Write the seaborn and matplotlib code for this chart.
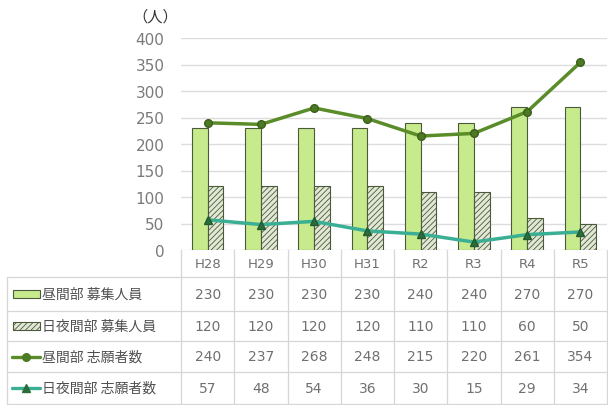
import matplotlib
matplotlib.use("Agg")
import matplotlib.pyplot as plt
import seaborn as sns
import pandas as pd
import numpy as np
from matplotlib.patches import Rectangle
from matplotlib.lines import Line2D

categories = ["H28", "H29", "H30", "H31", "R2", "R3", "R4", "R5"]
day_quota = [230, 230, 230, 230, 240, 240, 270, 270]
daynight_quota = [120, 120, 120, 120, 110, 110, 60, 50]
day_applicants = [240, 237, 268, 248, 215, 220, 261, 354]
daynight_applicants = [57, 48, 54, 36, 30, 15, 29, 34]
series_labels = ["昼間部 募集人員", "日夜間部 募集人員", "昼間部 志願者数", "日夜間部 志願者数"]
y_ticks = [0, 50, 100, 150, 200, 250, 300, 350, 400]

sns.set_theme(style="white")
plt.rcParams['font.family'] = ['Noto Sans CJK JP', 'DejaVu Sans']
plt.rcParams['hatch.color'] = "#8a9a7a"
plt.rcParams['hatch.linewidth'] = 0.6

W, H = 608, 406
fig = plt.figure(figsize=(W / 100, H / 100), dpi=100)
left, right, top, bottom = 181, 607, 39, 251
ax = fig.add_axes([left / W, 1 - bottom / H, (right - left) / W, (bottom - top) / H])

bar_green = "#c6ea8c"
bar_edge = "#4a5a3a"
hatch_face = "#e2e8d6"
line_green = "#5a8c2a"
marker_green = "#4c7a22"
line_teal = "#3aaf94"
marker_teal = "#2a6e3a"
gray_txt = "#707070"

df = pd.DataFrame({
    "cat": categories * 2,
    "val": day_quota + daynight_quota,
    "series": [series_labels[0]] * 8 + [series_labels[1]] * 8,
})
sns.barplot(data=df, x="cat", y="val", hue="series", order=categories,
            hue_order=series_labels[:2], palette=[bar_green, hatch_face],
            width=0.59, ax=ax, legend=False, edgecolor=bar_edge, linewidth=0.8,
            saturation=1)
for p in ax.patches[len(categories):]:
    p.set_hatch("//////")
    p.set_edgecolor(bar_edge)

df_a = pd.DataFrame({"cat": categories, "val": day_applicants})
df_b = pd.DataFrame({"cat": categories, "val": daynight_applicants})
sns.pointplot(data=df_a, x="cat", y="val", order=categories, color=line_green,
              markers="o", linewidth=2.5, ax=ax, errorbar=None)
sns.pointplot(data=df_b, x="cat", y="val", order=categories, color=line_teal,
              markers="^", linewidth=2.5, ax=ax, errorbar=None)
for ln, mc, ms in zip(ax.lines[-2:], [marker_green, marker_teal], [5.5, 5.5]):
    ln.set_markerfacecolor(mc)
    ln.set_markeredgecolor("#3d5e1c" if mc == marker_green else "#245a30")
    ln.set_markersize(ms)
    ln.set_markeredgewidth(1)

ax.set_ylim(0, 400)
ax.set_xlim(-0.5, len(categories) - 0.5)
ax.set_yticks(y_ticks)
ax.set_yticklabels([str(t) for t in y_ticks], color="#7a7a7a", fontsize=11,
                   family="DejaVu Sans")
ax.tick_params(axis="y", length=0, pad=12)
ax.set_xticks([])
ax.set_xlabel("")
ax.set_ylabel("")
for s in ax.spines.values():
    s.set_visible(False)
ax.grid(axis="y", color="#dcdcdc", linewidth=1)
ax.set_axisbelow(True)

fig.text(155 / W, 1 - 17 / H, "（人）", ha="center", va="center", fontsize=11,
         color="#333333")

# table
def fx(px):
    return px / W

def fy(py):
    return 1 - py / H

col_w = (right - left) / len(categories)
row_lines = [251, 278, 312, 342, 373, 405]
tab_left = 7
lc = "#d6d6d6"
for yy in row_lines[1:]:
    fig.add_artist(Line2D([fx(tab_left), fx(right)], [fy(yy), fy(yy)], color=lc, lw=0.9))
for i in range(len(categories) + 1):
    xx = left + i * col_w
    fig.add_artist(Line2D([fx(xx), fx(xx)], [fy(251), fy(405)], color=lc, lw=0.9))
fig.add_artist(Line2D([fx(tab_left), fx(tab_left)], [fy(278), fy(405)], color=lc, lw=0.9))

for i, c in enumerate(categories):
    cx = left + (i + 0.5) * col_w
    fig.text(fx(cx), fy(265), c, ha="center", va="center", fontsize=9.5,
             color=gray_txt, family="DejaVu Sans")

rows = [day_quota, daynight_quota, day_applicants, daynight_applicants]
for r, vals in enumerate(rows):
    cy = (row_lines[r + 1] + row_lines[r + 2]) / 2
    for i, v in enumerate(vals):
        cx = left + (i + 0.5) * col_w
        fig.text(fx(cx), fy(cy), str(v), ha="center", va="center", fontsize=10,
                 color=gray_txt, family="DejaVu Sans")
    fig.text(fx(42), fy(cy), series_labels[r], ha="left", va="center",
             fontsize=10, color="#505050")
    if r == 0:
        fig.add_artist(Rectangle((fx(13), fy(cy + 4)), 27 / W, 8 / H,
                                 facecolor=bar_green, edgecolor=bar_edge, lw=0.8))
    elif r == 1:
        fig.add_artist(Rectangle((fx(13), fy(cy + 4)), 27 / W, 8 / H,
                                 facecolor=hatch_face, edgecolor=bar_edge, lw=0.8,
                                 hatch="//////"))
    else:
        lcol = line_green if r == 2 else line_teal
        mcol = marker_green if r == 2 else marker_teal
        mk = "o" if r == 2 else "^"
        fig.add_artist(Line2D([fx(12), fx(40)], [fy(cy), fy(cy)], color=lcol, lw=2.4))
        fig.add_artist(Line2D([fx(26)], [fy(cy)], color=lcol, lw=0, marker=mk,
                              markersize=5.5, markerfacecolor=mcol,
                              markeredgecolor=mcol))

fig.savefig("out.png", dpi=100)
